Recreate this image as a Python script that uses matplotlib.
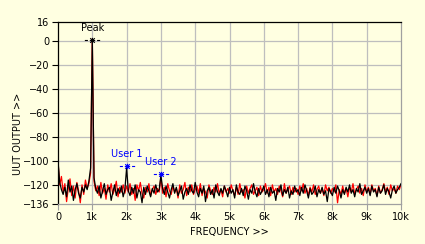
import matplotlib
matplotlib.use('Agg')
import matplotlib.pyplot as plt
import numpy as np
from matplotlib.path import Path

# spectrum, 50 Hz bins, 0..10 kHz
freq_step = 50
black_db = [
    -100, -118, -124, -128, -122, -130, -116, -126, -121, -133, -124, -119, -127, -131, -122, -126, -120, -124, -117, -106,
    1, -114, -123, -127, -121, -131, -125, -119, -128, -124, -122, -133, -126, -120, -129, -123, -127, -121, -130, -124,
    -106, -125, -129, -122, -127, -120, -131, -124, -126, -135, -122, -128, -121, -125, -130, -123, -127, -120, -126, -124,
    -112, -123, -128, -121, -126, -131, -124, -119, -127, -122, -129, -125, -121, -132, -126, -123, -128, -120, -125, -127,
    -118, -126, -130, -123, -127, -121, -134, -125, -122, -128, -124, -131, -120, -126, -129, -123, -127, -121, -125, -130,
    -122, -127, -124, -131, -120, -126, -128, -123, -129, -121, -125, -132, -124, -127, -119, -126, -130, -123, -128, -125,
    -121, -128, -124, -130, -122, -127, -125, -133, -123, -126, -120, -129, -124, -127, -122, -131, -125, -128, -121, -126,
    -124, -129, -122, -127, -120, -125, -131, -123, -128, -126, -121, -130, -124, -127, -122, -128, -125, -134, -123, -126,
    -129, -122, -127, -121, -125, -131, -124, -128, -122, -126, -120, -127, -124, -130, -123, -126, -119, -128, -125, -122,
    -127, -123, -129, -121, -126, -124, -130, -122, -127, -125, -120, -128, -123, -126, -131, -124, -121, -127, -124, -122,
    -119,
]
red_db = [
    -101, -120, -113, -126, -119, -134, -123, -115, -129, -121, -131, -118, -125, -135, -120, -128, -116, -123, -119, -110,
    2, -117, -125, -121, -129, -118, -127, -123, -132, -120, -126, -119, -128, -124, -117, -130, -122, -126, -120, -127,
    -121, -126, -119, -128, -123, -133, -120, -125, -118, -127, -131, -122, -126, -119, -129, -124, -121, -128, -123, -126,
    -114, -127, -122, -130, -119, -125, -128, -121, -126, -123, -131, -120, -127, -124, -118, -129, -122, -126, -120, -128,
    -124, -121, -127, -119, -129, -123, -126, -131, -120, -125, -128, -122, -126, -119, -127, -124, -130, -121, -126, -123,
    -127, -120, -125, -129, -122, -128, -119, -126, -124, -131, -121, -127, -123, -120, -128, -125, -122, -129, -121, -126,
    -124, -119, -127, -122, -129, -120, -126, -123, -128, -121, -125, -130, -119, -127, -124, -121, -128, -122, -126, -123,
    -128, -121, -125, -119, -127, -123, -129, -122, -126, -120, -128, -124, -121, -127, -123, -129, -120, -125, -122, -127,
    -123, -126, -120, -135, -124, -128, -121, -127, -123, -130, -122, -126, -119, -128, -124, -121, -127, -123, -129, -120,
    -126, -122, -128, -120, -125, -123, -129, -121, -127, -124, -119, -126, -122, -128, -120, -125, -123, -127, -121, -124,
    -120,
]
freqs = np.arange(len(black_db)) * freq_step

cursor_names = ['Peak', 'User 1', 'User 2']
cursor_x = [1000, 2000, 3000]
cursor_y = [1, -104, -111]
cursor_colors = ['black', 'blue', 'blue']

yticks = [16, 0, -20, -40, -60, -80, -100, -120, -136]
xticks = [0, 1000, 2000, 3000, 4000, 5000, 6000, 7000, 8000, 9000, 10000]
xticklabels = ['0', '1k', '2k', '3k', '4k', '5k', '6k', '7k', '8k', '9k', '10k']

bg = '#FFFFE1'
plt.rcParams['font.family'] = ['DejaVu Sans']
plt.rcParams['font.size'] = 7

fig = plt.figure(figsize=(4.25, 2.44), dpi=100, facecolor=bg)
ax = fig.add_axes([58/425, 1-204/244, (401-58)/425, (204-22)/244])
ax.set_facecolor(bg)

for v in [0, -20, -40, -60, -80, -100, -120]:
    ax.axhline(v, color='#BEBEBE', lw=0.9, zorder=0)
for v in xticks[1:-1]:
    ax.axvline(v, color='#BEBEBE', lw=0.9, zorder=0)

ax.plot(freqs, red_db, color='red', lw=0.9, zorder=2)
ax.plot(freqs, black_db, color='black', lw=0.9, zorder=3)

# cursor glyph: asterisk with small dashes either side
verts = [(-1, 0), (-0.6, 0), (-0.35, 0), (0.35, 0), (0.6, 0), (1, 0),
         (0, -0.35), (0, 0.35), (-0.3, -0.3), (0.3, 0.3), (-0.3, 0.3), (0.3, -0.3)]
codes = [Path.MOVETO, Path.LINETO] * 6
cursor_marker = Path(verts, codes)

for name, cx, cy, c in zip(cursor_names, cursor_x, cursor_y, cursor_colors):
    ax.plot([cx], [cy], marker=cursor_marker, ms=11, mew=0.8, color=c,
            mfc='none', zorder=5, linestyle='none')
    ax.annotate(name, (cx, cy), xytext=(0, 5), textcoords='offset points',
                ha='center', va='bottom', color=c, fontsize=7, zorder=6)

ax.set_xlim(0, 10000)
ax.set_ylim(-136, 16)
ax.set_yticks(yticks)
ax.set_xticks(xticks)
ax.set_xticklabels(xticklabels)
ax.tick_params(direction='out', length=4, width=0.8, pad=2, labelsize=7)
ax.tick_params(axis='x', color='#A0A0A0')

for side in ['left', 'top']:
    ax.spines[side].set_color('black')
for side in ['bottom', 'right']:
    ax.spines[side].set_color('#A0A0A0')
for s in ax.spines.values():
    s.set_linewidth(0.9)

ax.set_xlabel('FREQUENCY >>', fontsize=7, labelpad=3)
ax.set_ylabel('UUT OUTPUT >>', fontsize=7)
ax.yaxis.set_label_coords(-0.102, 0.385)

fig.savefig('out.png', dpi=100, facecolor=bg)
